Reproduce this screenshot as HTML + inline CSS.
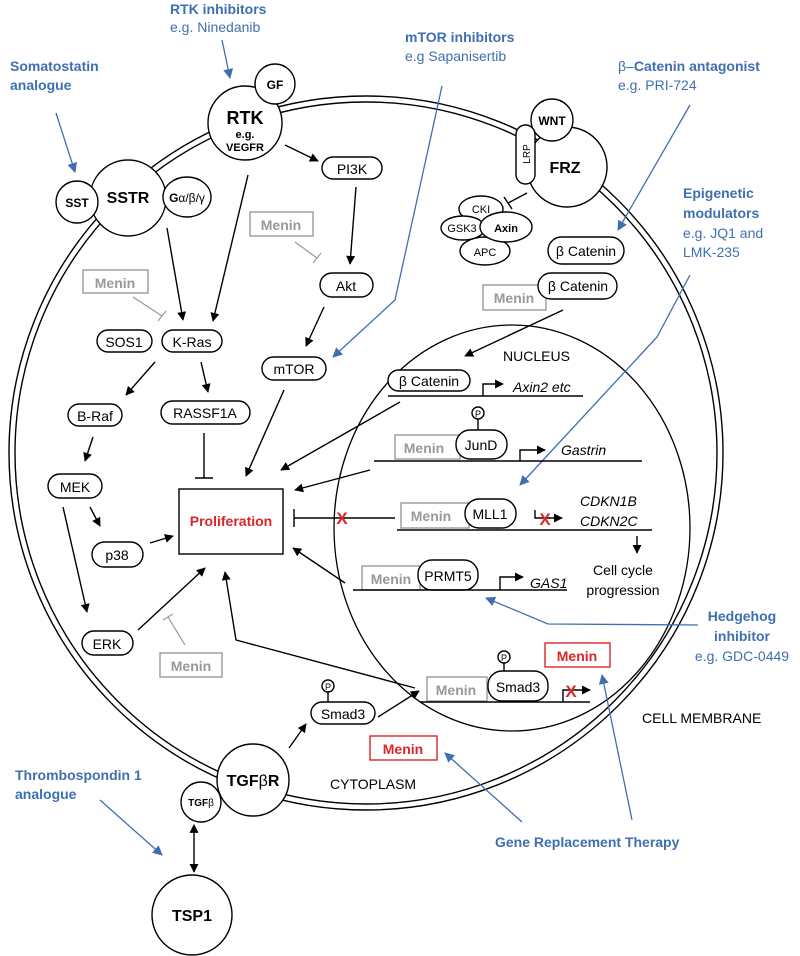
<!DOCTYPE html>
<html><head><meta charset="utf-8"><style>
html,body{margin:0;padding:0;background:#fff}
svg{display:block}
text{font-family:"Liberation Sans",Arial,sans-serif}
.b{fill:#3f6fb0;font-weight:bold;font-size:14px}
.bl{fill:#3f6fb0;font-size:14px}
.p{fill:#fff;stroke:#000;stroke-width:1.4}
.t{font-size:14px;fill:#000}
.g{fill:#fff;stroke:#999;stroke-width:1.4}
.gt{font-size:14px;fill:#999;font-weight:bold}
.l{stroke:#000;stroke-width:1.4;fill:none}
.bln{stroke:#3f6fb0;stroke-width:1.3;fill:none}
.i{font-style:italic;font-size:14px}
</style></head><body>
<svg width="800" height="956" viewBox="0 0 800 956" xmlns="http://www.w3.org/2000/svg">
<defs>
<marker id="a" viewBox="0 0 10 10" refX="9" refY="5" markerWidth="9" markerHeight="9" markerUnits="userSpaceOnUse" orient="auto"><path d="M0,0L10,5L0,10z" fill="#000"/></marker>
<marker id="ab" viewBox="0 0 10 10" refX="9" refY="5" markerWidth="10" markerHeight="10" markerUnits="userSpaceOnUse" orient="auto"><path d="M0,0L10,5L0,10z" fill="#3f6fb0"/></marker>
<marker id="as" viewBox="0 0 10 10" refX="1" refY="5" markerWidth="9" markerHeight="9" markerUnits="userSpaceOnUse" orient="auto-start-reverse"><path d="M0,0L10,5L0,10z" fill="#000"/></marker>
</defs>
<!-- membrane -->
<circle cx="366" cy="453" r="357" fill="none" stroke="#000" stroke-width="1.4"/>
<circle cx="366" cy="453" r="351" fill="none" stroke="#000" stroke-width="1.4"/>
<!-- nucleus -->
<ellipse cx="512" cy="528" rx="178" ry="203" fill="none" stroke="#000" stroke-width="1.3"/>

<!-- blue labels -->
<text x="170" y="14" class="b">RTK inhibitors</text>
<text x="170" y="32" class="bl">e.g. Ninedanib</text>
<text x="10" y="71" class="b">Somatostatin</text>
<text x="10" y="90" class="b">analogue</text>
<text x="405" y="42" class="b">mTOR inhibitors</text>
<text x="405" y="61" class="bl">e.g Sapanisertib</text>
<text x="618" y="71" class="b"><tspan font-weight="normal">β–</tspan>Catenin antagonist</text>
<text x="618" y="90" class="bl">e.g. PRI-724</text>
<text x="683" y="198" class="b">Epigenetic</text>
<text x="683" y="218" class="b">modulators</text>
<text x="683" y="238" class="bl">e.g. JQ1 and</text>
<text x="683" y="257" class="bl">LMK-235</text>
<text x="742" y="621" class="b" text-anchor="middle">Hedgehog</text>
<text x="742" y="641" class="b" text-anchor="middle">inhibitor</text>
<text x="742" y="661" class="bl" text-anchor="middle">e.g. GDC-0449</text>
<text x="495" y="847" class="b">Gene Replacement Therapy</text>
<text x="15" y="780" class="b">Thrombospondin 1</text>
<text x="15" y="799" class="b">analogue</text>

<!-- blue arrows -->
<line x1="56" y1="113" x2="75" y2="172" class="bln" marker-end="url(#ab)"/>
<line x1="222" y1="40" x2="230" y2="78" class="bln" marker-end="url(#ab)"/>
<polyline points="442,86 395,300 333,357" class="bln" marker-end="url(#ab)"/>
<line x1="690" y1="105" x2="618" y2="230" class="bln" marker-end="url(#ab)"/>
<polyline points="690,275 657,337 520,485" class="bln" marker-end="url(#ab)"/>
<polyline points="698,625 548,624 486,598" class="bln" marker-end="url(#ab)"/>
<line x1="522" y1="822" x2="445" y2="753" class="bln" marker-end="url(#ab)"/>
<line x1="632" y1="820" x2="602" y2="675" class="bln" marker-end="url(#ab)"/>
<line x1="100" y1="800" x2="162" y2="855" class="bln" marker-end="url(#ab)"/>

<!-- receptors -->
<circle cx="245" cy="123" r="37" class="p"/>
<circle cx="275" cy="84" r="20" class="p"/>
<text x="275" y="89" font-size="12" font-weight="bold" text-anchor="middle">GF</text>
<text x="245" y="124" font-size="18" font-weight="bold" text-anchor="middle">RTK</text>
<text x="245" y="138" font-size="11" font-weight="bold" text-anchor="middle">e.g.</text>
<text x="245" y="151" font-size="11" font-weight="bold" text-anchor="middle">VEGFR</text>
<circle cx="128" cy="198" r="38" class="p"/>
<circle cx="77" cy="202" r="21" class="p"/>
<text x="77" y="207" font-size="12" font-weight="bold" text-anchor="middle">SST</text>
<text x="128" y="203" font-size="16" font-weight="bold" text-anchor="middle">SSTR</text>
<ellipse cx="187" cy="197" rx="24" ry="20" class="p"/>
<text x="187" y="202" font-size="12" text-anchor="middle"><tspan font-weight="bold">G</tspan>α/β/γ</text>

<circle cx="567" cy="167" r="40" class="p"/>
<circle cx="552" cy="120" r="21" class="p"/>
<text x="552" y="125" font-size="12" font-weight="bold" text-anchor="middle">WNT</text>
<text x="565" y="173" font-size="16" font-weight="bold" text-anchor="middle">FRZ</text>
<rect x="516" y="125" width="19" height="59" rx="9.5" class="p"/>
<text x="530" y="154" font-size="10" text-anchor="middle" transform="rotate(-90 530 154)">LRP</text>
<ellipse cx="481" cy="209" rx="22" ry="13" class="p"/>
<ellipse cx="485" cy="251" rx="25" ry="14" class="p"/>
<ellipse cx="463" cy="228" rx="22" ry="12" class="p"/>
<ellipse cx="506" cy="227" rx="26" ry="15" class="p"/>
<text x="481" y="213" font-size="11" text-anchor="middle">CKI</text>
<text x="462" y="232" font-size="11" text-anchor="middle">GSK3</text>
<text x="506" y="232" font-size="11" font-weight="bold" text-anchor="middle">Axin</text>
<text x="485" y="256" font-size="11" text-anchor="middle">APC</text>
<line x1="527" y1="193" x2="508" y2="203" class="l"/>
<line x1="504" y1="197" x2="512" y2="209" class="l"/>

<circle cx="253" cy="780" r="36" class="p"/>
<circle cx="201" cy="802" r="20" class="p"/>
<text x="253" y="786" font-size="16" font-weight="bold" text-anchor="middle">TGF<tspan font-weight="normal">β</tspan>R</text>
<text x="201" y="806" font-size="10" font-weight="bold" text-anchor="middle">TGF<tspan font-weight="normal">β</tspan></text>
<circle cx="192" cy="915" r="40" class="p"/>
<text x="192" y="921" font-size="16" font-weight="bold" text-anchor="middle">TSP1</text>
<line x1="194" y1="832" x2="194" y2="872" class="l" marker-start="url(#as)" marker-end="url(#a)"/>

<!-- pills -->
<g>
<rect x="322" y="157" width="60" height="22" rx="11" class="p"/><text x="352" y="174" class="t" text-anchor="middle">PI3K</text>
<rect x="320" y="273" width="53" height="24" rx="12" class="p"/><text x="346" y="291" class="t" text-anchor="middle">Akt</text>
<rect x="162" y="330" width="60" height="22" rx="11" class="p"/><text x="192" y="347" class="t" text-anchor="middle">K-Ras</text>
<rect x="97" y="330" width="55" height="22" rx="11" class="p"/><text x="124" y="347" class="t" text-anchor="middle">SOS1</text>
<rect x="262" y="357" width="64" height="23" rx="11.5" class="p"/><text x="294" y="374" class="t" text-anchor="middle">mTOR</text>
<rect x="68" y="404" width="54" height="22" rx="11" class="p"/><text x="95" y="421" class="t" text-anchor="middle">B-Raf</text>
<rect x="161" y="401" width="89" height="23" rx="11.5" class="p"/><text x="205" y="418" class="t" text-anchor="middle">RASSF1A</text>
<rect x="48" y="474" width="54" height="24" rx="12" class="p"/><text x="75" y="492" class="t" text-anchor="middle">MEK</text>
<rect x="92" y="542" width="51" height="25" rx="12.5" class="p"/><text x="117" y="560" class="t" text-anchor="middle">p38</text>
<rect x="82" y="631" width="51" height="24" rx="12" class="p"/><text x="107" y="649" class="t" text-anchor="middle">ERK</text>
<rect x="311" y="702" width="64" height="22" rx="11" class="p"/><text x="343" y="719" class="t" text-anchor="middle">Smad3</text>
<circle cx="328" cy="686" r="6" class="p"/><text x="328" y="690" font-size="9" text-anchor="middle">P</text>
<line x1="328" y1="692" x2="328" y2="702" class="l"/>
<rect x="548" y="237" width="76" height="27" rx="13.5" class="p"/><text x="586" y="256" class="t" text-anchor="middle">β Catenin</text>
<rect x="483" y="285" width="63" height="25" class="g"/><text x="514" y="303" class="gt" text-anchor="middle">Menin</text>
<rect x="538" y="273" width="79" height="26" rx="13" class="p"/><text x="578" y="291" class="t" text-anchor="middle">β Catenin</text>
</g>
<!-- grey Menin -->
<rect x="250" y="212" width="63" height="24" class="g"/><text x="281" y="230" class="gt" text-anchor="middle">Menin</text>
<rect x="83" y="270" width="65" height="23" class="g"/><text x="115" y="288" class="gt" text-anchor="middle">Menin</text>
<rect x="160" y="653" width="62" height="24" class="g"/><text x="191" y="671" class="gt" text-anchor="middle">Menin</text>

<!-- Proliferation -->
<rect x="179" y="489" width="104" height="65" fill="#fff" stroke="#000" stroke-width="1.4"/>
<text x="231" y="526" font-size="14" font-weight="bold" fill="#d9262a" text-anchor="middle">Proliferation</text>

<!-- cytoplasm arrows -->
<line x1="285" y1="145" x2="318" y2="161" class="l" marker-end="url(#a)"/>
<line x1="356" y1="187" x2="350" y2="264" class="l" marker-end="url(#a)"/>
<line x1="324" y1="307" x2="306" y2="346" class="l" marker-end="url(#a)"/>
<line x1="167" y1="228" x2="183" y2="320" class="l" marker-end="url(#a)"/>
<line x1="248" y1="175" x2="213" y2="321" class="l" marker-end="url(#a)"/>
<line x1="155" y1="362" x2="126" y2="395" class="l" marker-end="url(#a)"/>
<line x1="201" y1="362" x2="208" y2="392" class="l" marker-end="url(#a)"/>
<line x1="93" y1="437" x2="85" y2="461" class="l" marker-end="url(#a)"/>
<line x1="90" y1="507" x2="100" y2="526" class="l" marker-end="url(#a)"/>
<line x1="63" y1="507" x2="87" y2="612" class="l" marker-end="url(#a)"/>
<line x1="150" y1="543" x2="173" y2="536" class="l" marker-end="url(#a)"/>
<line x1="138" y1="630" x2="205" y2="568" class="l" marker-end="url(#a)"/>
<line x1="284" y1="390" x2="246" y2="476" class="l" marker-end="url(#a)"/>
<line x1="204" y1="433" x2="204" y2="478" class="l"/><line x1="195" y1="478" x2="213" y2="478" class="l"/>
<line x1="400" y1="402" x2="281" y2="470" class="l" marker-end="url(#a)"/>
<line x1="370" y1="470" x2="295" y2="490" class="l" marker-end="url(#a)"/>
<line x1="345" y1="583" x2="293" y2="548" class="l" marker-end="url(#a)"/>
<polyline points="415,688 236,640 225,572" class="l" marker-end="url(#a)"/>
<line x1="563" y1="310" x2="465" y2="356" class="l" marker-end="url(#a)"/>
<line x1="289" y1="748" x2="306" y2="724" class="l" marker-end="url(#a)"/>
<line x1="378" y1="717" x2="419" y2="691" class="l" marker-end="url(#a)"/>
<!-- grey inhibitions -->
<line x1="295" y1="242" x2="317" y2="258" stroke="#999" stroke-width="1.2"/><line x1="313" y1="263" x2="321" y2="253" stroke="#999" stroke-width="1.2"/>
<line x1="133" y1="297" x2="162" y2="316" stroke="#999" stroke-width="1.2"/><line x1="158" y1="321" x2="166" y2="311" stroke="#999" stroke-width="1.2"/>
<line x1="185" y1="645" x2="168" y2="617" stroke="#999" stroke-width="1.2"/><line x1="163" y1="620" x2="173" y2="614" stroke="#999" stroke-width="1.2"/>

<!-- nucleus content -->
<text x="503" y="361" font-size="14">NUCLEUS</text>
<rect x="388" y="370" width="82" height="21" rx="10.5" class="p"/><text x="429" y="386" class="t" text-anchor="middle">β Catenin</text>
<line x1="388" y1="396" x2="583" y2="396" class="l"/>
<polyline points="483,396 483,384 503,384" class="l" marker-end="url(#a)"/>
<text x="513" y="392" class="i">Axin2 etc</text>

<rect x="395" y="435" width="65" height="24" class="g"/><text x="424" y="453" class="gt" text-anchor="middle">Menin</text>
<rect x="456" y="430" width="51" height="29" rx="14" class="p"/><text x="481" y="450" class="t" text-anchor="middle">JunD</text>
<circle cx="478" cy="413" r="6" class="p"/><text x="478" y="417" font-size="9" text-anchor="middle">P</text>
<line x1="478" y1="419" x2="478" y2="430" class="l"/>
<line x1="374" y1="461" x2="642" y2="461" class="l"/>
<polyline points="520,461 520,450 545,450" class="l" marker-end="url(#a)"/>
<text x="561" y="455" class="i">Gastrin</text>

<line x1="294" y1="518" x2="395" y2="518" class="l"/><line x1="294" y1="509" x2="294" y2="527" class="l"/>
<text x="342" y="524" font-size="17" font-weight="bold" fill="#d9262a" text-anchor="middle">X</text>
<rect x="401" y="503" width="68" height="25" class="g"/><text x="431" y="521" class="gt" text-anchor="middle">Menin</text>
<rect x="465" y="499" width="51" height="29" rx="14" class="p"/><text x="490" y="519" class="t" text-anchor="middle">MLL1</text>
<line x1="397" y1="530" x2="652" y2="530" class="l"/>
<polyline points="535,510 535,518 562,518" class="l" marker-end="url(#a)"/>
<text x="545" y="525" font-size="17" font-weight="bold" fill="#d9262a" text-anchor="middle">X</text>
<text x="580" y="506" class="i">CDKN1B</text>
<text x="580" y="526" class="i">CDKN2C</text>
<line x1="637" y1="536" x2="637" y2="553" class="l" marker-end="url(#a)"/>
<text x="623" y="575" font-size="14" text-anchor="middle">Cell cycle</text>
<text x="623" y="595" font-size="14" text-anchor="middle">progression</text>

<rect x="362" y="566" width="58" height="24" class="g"/><text x="391" y="584" class="gt" text-anchor="middle">Menin</text>
<rect x="418" y="560" width="60" height="30" rx="14" class="p"/><text x="448" y="581" class="t" text-anchor="middle">PRMT5</text>
<line x1="353" y1="590" x2="567" y2="590" class="l"/>
<polyline points="500,590 500,577 523,577" class="l" marker-end="url(#a)"/>
<text x="530" y="588" class="i">GAS1</text>

<rect x="427" y="677" width="60" height="24" class="g"/><text x="456" y="695" class="gt" text-anchor="middle">Menin</text>
<rect x="488" y="671" width="60" height="30" rx="14" class="p"/><text x="518" y="692" class="t" text-anchor="middle">Smad3</text>
<circle cx="504" cy="657" r="6" class="p"/><text x="504" y="661" font-size="9" text-anchor="middle">P</text>
<line x1="504" y1="663" x2="504" y2="671" class="l"/>
<line x1="420" y1="702" x2="590" y2="702" class="l"/>
<polyline points="563,702 563,690 590,690" class="l" marker-end="url(#a)"/>
<text x="571" y="697" font-size="17" font-weight="bold" fill="#d9262a" text-anchor="middle">X</text>

<!-- red Menin -->
<rect x="545" y="643" width="65" height="24" fill="#fff" stroke="#d9262a" stroke-width="1.4"/><text x="577" y="661" font-size="14" font-weight="bold" fill="#d9262a" text-anchor="middle">Menin</text>
<rect x="370" y="736" width="67" height="24" fill="#fff" stroke="#d9262a" stroke-width="1.4"/><text x="403" y="754" font-size="14" font-weight="bold" fill="#d9262a" text-anchor="middle">Menin</text>

<text x="642" y="723" font-size="14">CELL MEMBRANE</text>
<text x="330" y="789" font-size="14">CYTOPLASM</text>
</svg>
</body></html>
